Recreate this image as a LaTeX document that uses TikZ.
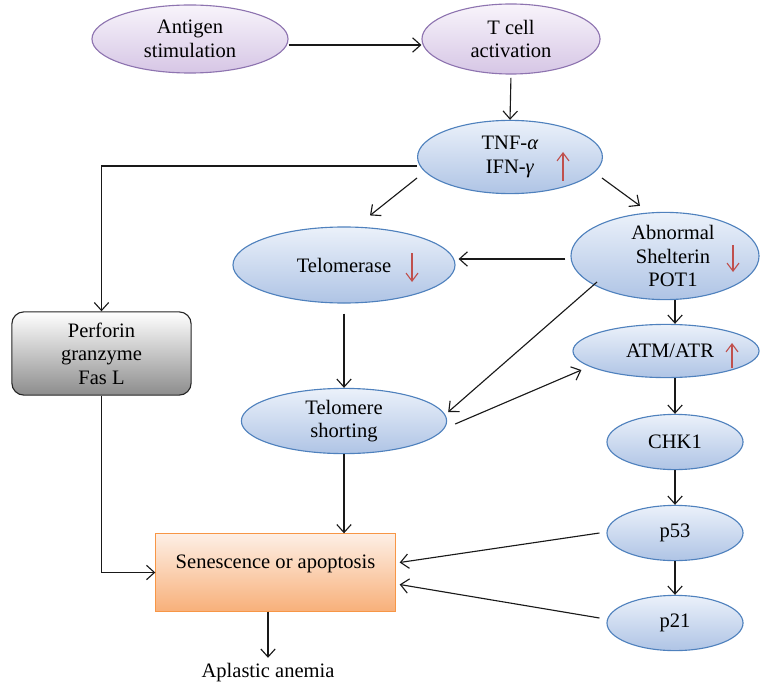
\documentclass[tikz,border=0pt]{standalone}
\usepackage{fontspec}
\setmainfont{Liberation Serif}
\usetikzlibrary{shapes.geometric,arrows.meta}

\definecolor{lilaborde}{HTML}{8E74B0}
\definecolor{lilaalto}{HTML}{F8F4FB}
\definecolor{lilabajo}{HTML}{D6C6E5}
\definecolor{azulborde}{HTML}{4F81BD}
\definecolor{azulalto}{HTML}{EBF1FA}
\definecolor{azulbajo}{HTML}{AFC4E5}
\definecolor{naranjaborde}{HTML}{F79646}
\definecolor{naranjaalto}{HTML}{FDEFE5}
\definecolor{naranjabajo}{HTML}{F8B07A}
\definecolor{rojoflecha}{HTML}{C0504D}

\tikzstyle{lila} = [ellipse, draw=lilaborde, line width=0.8pt, top color=lilaalto, bottom color=lilabajo, align=center, inner sep=0pt]
\tikzstyle{azul} = [ellipse, draw=azulborde, line width=0.8pt, top color=azulalto, bottom color=azulbajo, align=center, inner sep=0pt]
\tikzstyle{gris} = [rectangle, rounded corners=0.3cm, draw=black!85, line width=0.8pt, top color=white, bottom color=black!45, align=center, minimum width=4.48cm, minimum height=2.08cm]
\tikzstyle{naranja} = [rectangle, draw=naranjaborde, line width=0.8pt, top color=naranjaalto, bottom color=naranjabajo, minimum width=5.98cm, minimum height=1.93cm, text depth=0.55cm]
\tikzstyle{flecha} = [-{Straight Barb[length=0.2cm,width=0.36cm]}, line width=0.8pt, black!90]
\tikzstyle{roja} = [-{Straight Barb[length=0.2cm,width=0.3cm]}, line width=0.8pt, rojoflecha]

\begin{document}
\begin{tikzpicture}[x=0.025cm, y=-0.025cm, font=\fontsize{14.6}{16.8}\selectfont]
	\clip (0,0) rectangle (760,682);
	% Elipses de arriba
	\node[lila, minimum width=4.9cm, minimum height=1.7cm] (antigen) at (190,39) {Antigen\\stimulation};
	\node[lila, minimum width=4.45cm, minimum height=1.75cm] (tcell) at (511,39) {T cell\\activation};
	\node[azul, minimum width=4.62cm, minimum height=1.83cm] (tnf) at (510,157) {TNF-\textit{α}\\IFN-\textit{γ}};
	% Telomeros
	\node[azul, minimum width=5.55cm, minimum height=1.9cm] (telomerase) at (344,265) {Telomerase};
	\node[azul, minimum width=5.13cm, minimum height=1.63cm] (telomere) at (344,421) {Telomere\\shorting};
	% Columna derecha
	\node[azul, minimum width=4.7cm, minimum height=1.65cm] (abnormal) at (665,256) {\hspace*{0.4cm}Abnormal\\\hspace*{0.4cm}Shelterin\\\hspace*{0.4cm}POT1};
	\node[azul, minimum width=4.65cm, minimum height=1.33cm] (atm) at (666,351) {\hspace*{0.2cm}ATM/ATR};
	\node[azul, minimum width=3.4cm, minimum height=1.38cm] (chk1) at (675,442) {CHK1};
	\node[azul, minimum width=3.4cm, minimum height=1.38cm] (p53) at (675,533) {p53};
	\node[azul, minimum width=3.4cm, minimum height=1.38cm] (p21) at (675,623) {p21};
	% Cajas
	\node[gris] (perforin) at (101.5,353.5) {Perforin\\granzyme\\Fas L};
	\node[naranja] (sen) at (275.5,572.5) {Senescence or apoptosis};
	\node[anchor=base] (aplastic) at (268,677) {Aplastic anemia};
	% Flechas rojas
	\draw[roja] ([shift={(53,24)}]tnf.center) -- ([shift={(53,-5)}]tnf.center);
	\draw[roja] ([shift={(68,-12)}]telomerase.center) -- ([shift={(68,17)}]telomerase.center);
	\draw[roja] ([shift={(68,-11)}]abnormal.center) -- ([shift={(68,16)}]abnormal.center);
	\draw[roja] ([shift={(66,17)}]atm.center) -- ([shift={(66,-8)}]atm.center);
	% Conexiones
	\draw[flecha] ([shift={(0,6)}]antigen.east) -- ([shift={(0,6)}]tcell.west);
	\draw[flecha, shorten <=0.08cm] (tcell.south) -- (tnf.north);
	\draw[flecha] ([shift={(0,9)}]tnf.west) -| (perforin.north);
	\draw[flecha] ([shift={(0,21)}]tnf.west) -- ([shift={(26,-11)}]telomerase.north);
	\draw[flecha] ([shift={(-1,21)}]tnf.east) -- ([shift={(-25,-6)}]abnormal.north);
	\draw[flecha] ([shift={(-5,3)}]abnormal.west) -- ([shift={(3,-6)}]telomerase.east);
	\draw[flecha] ([shift={(-68,26)}]abnormal.center) -- ([shift={(1,-9)}]telomere.east);
	\draw[flecha] ([shift={(8,3)}]telomere.east) -- ([shift={(9,19)}]atm.west);
	\draw[flecha] (abnormal.south -| chk1.north) -- (atm.north -| chk1.north);
	\draw[flecha] (atm.south -| chk1.north) -- (chk1.north);
	\draw[flecha] (chk1) -- (p53);
	\draw[flecha] (p53) -- (p21);
	\draw[flecha] ([shift={(-7,0)}]p53.west) -- ([shift={(4,-10)}]sen.east);
	\draw[flecha] ([shift={(-7,-5)}]p21.west) -- ([shift={(4,12)}]sen.east);
	\draw[flecha, shorten <=0.25cm] (telomerase) -- (telomere);
	\draw[flecha] (telomere.south) -- (telomere.south |- sen.north);
	\draw[flecha] (perforin.south) |- (sen.west);
	\draw[flecha] (sen.south -| aplastic.north) -- (aplastic.north);
\end{tikzpicture}
\end{document}
